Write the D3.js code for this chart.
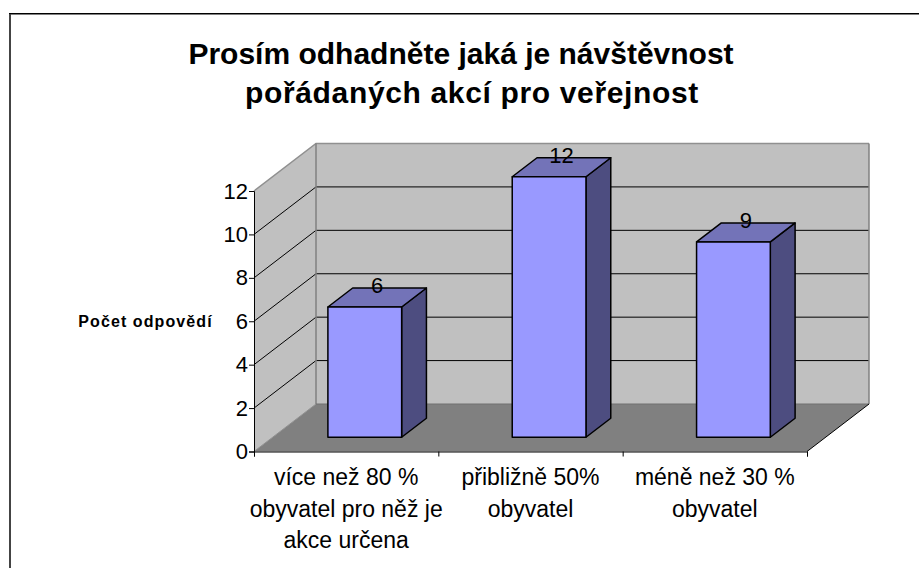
<!DOCTYPE html>
<html><head><meta charset="utf-8">
<script src="https://cdn.jsdelivr.net/npm/d3@7/dist/d3.min.js"></script>
<style>html,body{margin:0;padding:0;background:#fff}svg{display:block}text{font-family:"Liberation Sans",Arial,sans-serif;fill:#000}</style>
</head><body><script>
const titleLines = ["Prosím odhadněte jaká je návštěvnost", "pořádaných akcí pro veřejnost"];
const yAxisTitle = "Počet odpovědí";
const categories = ["více než 80 %", "přibližně 50%", "méně než 30 %"];
const categoryLabels = [["více než 80 %","obyvatel pro něž je","akce určena"],["přibližně 50%","obyvatel"],["méně než 30 %","obyvatel"]];
const values = [6, 12, 9];
const yTicks = [0, 2, 4, 6, 8, 10, 12];

const W = 919, H = 568;
const svg = d3.select("body").append("svg").attr("width", W).attr("height", H);

// page frame
svg.append("rect").attr("x", 9).attr("y", 13).attr("width", W - 9).attr("height", 1.5).attr("fill", "#000");
svg.append("rect").attr("x", 9).attr("y", 14).attr("width", 2).attr("height", 554).attr("fill", "#444");

const y = d3.scaleLinear().domain([0, 12]).range([451.5, 191]);
const x = d3.scaleBand().domain(categories).range([254, 807]).paddingInner(0.6).paddingOuter(0.3);
const depth = {dx: 62, dy: -47.5};
const proj = (px, py, t) => [px + depth.dx * t, py + depth.dy * t];
const line = pts => "M" + pts.map(p => p.join(",")).join("L") + "Z";

const x0 = 254, x1 = 807, yb = y(0), yt = y(12);
// walls
svg.append("path").attr("d", line([[x0, yb], proj(x0, yb, 1), proj(x0, yt, 1), [x0, yt]])).attr("fill", "#c0c0c0");
svg.append("path").attr("d", line([proj(x0, yb, 1), proj(x1, yb, 1), proj(x1, yt, 1), proj(x0, yt, 1)])).attr("fill", "#c0c0c0");
// floor
svg.append("path").attr("d", line([[x0, yb], [x1, yb], proj(x1, yb, 1), proj(x0, yb, 1)])).attr("fill", "#808080");

// gridlines
yTicks.filter(d => d > 0 && d < 12).forEach(d => {
  const a = [x0, y(d)], b = proj(x0, y(d), 1), c = proj(x1, y(d), 1);
  svg.append("path").attr("d", `M${a}L${b}L${c}`).attr("fill", "none").attr("stroke", "#000").attr("stroke-width", 1);
});
svg.append("path").attr("d", `M${[x0, yt]}L${proj(x0, yt, 1)}L${proj(x1, yt, 1)}`).attr("fill", "none").attr("stroke", "#909090").attr("stroke-width", 1.5);
svg.append("path").attr("d", `M${proj(x0, yb, 1)}L${proj(x0, yt, 1)}`).attr("stroke", "#808080").attr("stroke-width", 1.5);
svg.append("path").attr("d", `M${proj(x1, yb, 1)}L${proj(x1, yt, 1)}`).attr("stroke", "#808080").attr("stroke-width", 1.5);
svg.append("path").attr("d", `M${proj(x0, yb, 1)}L${proj(x1, yb, 1)}`).attr("stroke", "#707070").attr("stroke-width", 1);
svg.append("path").attr("d", `M${[x0, yb]}L${proj(x0, yb, 1)}`).attr("stroke", "#909090").attr("stroke-width", 1);
svg.append("path").attr("d", `M${[x1, yb]}L${proj(x1, yb, 1)}`).attr("stroke", "#000").attr("stroke-width", 1);

// bars
const tFront = 0.3, tBack = 0.7;
const lift = v => y(v) - y(0);
categories.forEach((c, i) => {
  const v = values[i];
  const xl = x(c), xr = xl + x.bandwidth();
  const F = (px, val, t) => proj(px, y(0) + lift(val), t);
  const g = svg.append("g").attr("stroke", "#000").attr("stroke-width", 1.5).attr("stroke-linejoin", "round");
  g.append("path").attr("fill", "#4d4d80").attr("d", line([F(xr, 0, tFront), F(xr, 0, tBack), F(xr, v, tBack), F(xr, v, tFront)]));
  g.append("path").attr("fill", "#7373b8").attr("d", line([F(xl, v, tFront), F(xr, v, tFront), F(xr, v, tBack), F(xl, v, tBack)]));
  g.append("path").attr("fill", "#9999ff").attr("d", line([F(xl, 0, tFront), F(xr, 0, tFront), F(xr, v, tFront), F(xl, v, tFront)]));
  const top = F((xl + xr) / 2, v, 0.5);
  svg.append("text").attr("x", top[0]).attr("y", top[1] - 4.5).attr("text-anchor", "middle").attr("font-size", 22).text(v);
});

// axes
const yAxis = d3.axisLeft(y).tickValues(yTicks).tickSize(5).tickPadding(1).tickFormat(d3.format("d"));
const gy = svg.append("g").attr("transform", `translate(${x0},0)`).call(yAxis);
gy.selectAll("text").attr("font-size", 22).attr("font-family", "'Liberation Sans'").attr("fill", "#000");
gy.selectAll("line,path").attr("stroke", "#000");
const xTickScale = d3.scaleLinear().domain([0, 3]).range([x0, x1]);
const gx = svg.append("g").attr("transform", `translate(0,${yb})`).call(d3.axisBottom(xTickScale).tickValues([0, 1, 2, 3]).tickSize(5).tickFormat(""));
gx.selectAll("line,path").attr("stroke", "#000");

// category labels
categories.forEach((c, i) => {
  const t = svg.append("text").attr("text-anchor", "middle").attr("font-size", 23);
  categoryLabels[i].forEach((l, j) => t.append("tspan").attr("x", x(c) + x.bandwidth() / 2).attr("y", 485 + j * 31.5).text(l));
});

// titles
titleLines.forEach((l, i) => svg.append("text").attr("x", i ? 472 : 461).attr("y", 64 + i * 39).attr("text-anchor", "middle").attr("font-size", 30).attr("letter-spacing", i ? 0.65 : 0).attr("font-weight", "bold").text(l));
svg.append("text").attr("x", 145.5).attr("y", 326.5).attr("text-anchor", "middle").attr("font-size", 16).attr("letter-spacing", 1.1).attr("font-weight", "bold").text(yAxisTitle);
</script></body></html>
